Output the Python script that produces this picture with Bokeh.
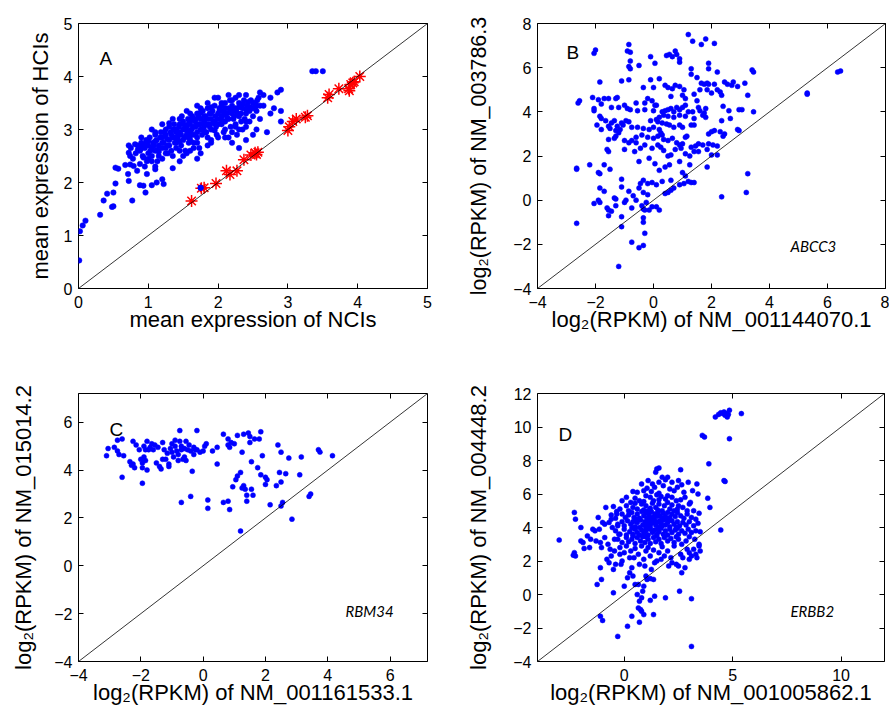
import math
from bokeh.plotting import figure
from bokeh.layouts import column, row
from bokeh.models import LinearAxis, Label, Slope, Range1d, FixedTicker
from bokeh.embed import file_html
from bokeh.resources import INLINE

# ---------------- data ----------------
a_points = [
    (0.01,0.53),(0.02,1.08),(0.06,1.19),(0.10,1.28),(0.31,1.39),(0.36,1.66),(0.41,1.79),(0.48,1.54),
    (0.50,1.55),(0.50,1.81),(0.53,1.98),(0.53,2.28),(0.57,2.26),(0.71,2.16),(0.72,2.03),(0.77,1.66),
    (0.88,1.95),(0.96,1.81),(0.93,1.94),(1.05,1.95),(1.12,2.00),(1.20,2.06),(1.22,1.97),(1.35,2.27),
    (1.10,2.25),(0.98,2.16),(0.67,2.33),(0.74,2.34),(0.79,2.31),(0.84,2.22),(0.72,2.56),(0.74,2.50),
    (0.81,2.72),(0.89,2.63),(0.93,2.47),
    (2.60,3.70),(2.65,3.65),(2.75,3.60),(2.85,3.70),(2.90,3.75),(2.65,3.45),(2.75,3.30),(2.80,3.40),
    (2.90,3.35),(2.90,3.15),(2.55,3.45),(2.60,3.20),(2.70,2.95),(2.50,2.90),(2.40,2.80),(2.40,3.15),
    (2.30,2.65),(2.20,2.75),(2.15,2.85),(2.00,2.85),(1.85,2.70),(1.75,2.55),(2.30,3.00),(2.55,3.00),
    (3.35,4.10),(3.40,4.10),(3.50,4.10),
    (1.45,2.60),(1.55,2.55),(1.65,2.65),(1.70,2.45),(1.20,2.45),(1.25,2.55),(1.05,2.40),(0.95,2.30),
    (1.60,2.80),(1.40,2.75),(1.90,2.80),
    (0.82,2.55),(0.85,2.70),(0.88,2.60),(0.90,2.75),(0.92,2.50),(0.95,2.65),(0.97,2.80),(1.00,2.70),
    (1.00,2.55),(0.98,2.40),
    (1.02,2.85),(1.05,2.65),(1.07,2.75),(1.10,2.60),(1.10,2.90),(1.12,2.80),(1.15,2.70),(1.15,2.50),
    (1.18,2.95),(1.20,2.85),(1.20,2.65),(1.22,2.75),(1.05,2.50),(1.13,2.40),
    (1.25,3.00),(1.25,2.90),(1.27,2.70),(1.30,2.80),(1.30,3.05),(1.32,2.95),(1.33,2.60),(1.35,2.85),
    (1.37,3.10),(1.38,2.75),(1.40,2.95),(1.40,3.00),(1.28,2.55),(1.35,2.50),
    (1.42,2.85),(1.45,3.10),(1.45,2.95),(1.47,2.70),(1.50,3.00),(1.50,3.15),(1.52,2.85),(1.55,3.05),
    (1.55,2.90),(1.57,3.20),(1.58,2.75),(1.60,3.10),(1.60,2.95),(1.48,3.25),(1.53,2.60),
    (1.62,3.00),(1.63,3.25),(1.65,2.90),(1.67,3.15),(1.68,3.05),(1.70,3.30),(1.70,2.85),(1.72,3.10),
    (1.75,3.00),(1.75,3.20),(1.77,2.90),(1.78,3.35),(1.80,3.15),(1.80,3.05),(1.65,2.75),(1.73,2.65),
    (1.82,3.25),(1.83,2.95),(1.85,3.40),(1.87,3.10),(1.88,3.30),(1.90,3.20),(1.90,3.00),(1.92,3.35),
    (1.95,3.15),(1.95,3.45),(1.97,3.05),(2.00,3.30),(2.00,3.20),(1.85,2.85),(1.98,2.90),
    (2.02,3.40),(2.05,3.10),(2.05,3.25),(2.08,3.35),(2.10,3.50),(2.10,3.15),(2.12,3.30),(2.15,3.20),
    (2.15,3.40),(2.18,3.05),(2.20,3.30),(2.20,3.45),(2.08,2.95),(2.17,3.55),
    (2.22,3.20),(2.25,3.40),(2.25,3.10),(2.28,3.30),(2.30,3.50),(2.30,3.25),(2.33,3.15),(2.35,3.40),
    (2.37,3.55),(2.40,3.30),(2.38,3.20),(2.27,2.90),
    (2.42,3.45),(2.45,3.35),(2.47,3.55),(2.50,3.40),(2.50,3.25),(2.53,3.50),(2.55,3.35),(2.58,3.60),
    (2.60,3.45),(2.45,3.15),
    (0.75,2.65),(0.78,2.45),(0.72,2.70),(1.05,3.00),(1.20,3.10),(1.35,3.20),(1.55,3.35),(1.70,3.45),
    (1.85,3.50),(2.00,3.60),(2.25,3.60),(2.40,3.65),(1.75,3.40),(1.50,2.50),(1.60,2.60),(1.90,2.75),
    (2.10,2.85),(2.20,2.95),(2.35,3.00),(1.10,2.30),(0.88,2.35),(1.45,2.40),(2.05,3.50),(1.95,3.60),
    (2.30,3.65),(2.15,3.65),
    (0.85,2.62),(0.90,2.68),(0.95,2.72),(1.00,2.78),(1.03,2.60),(1.08,2.70),(1.10,2.78),(1.13,2.62),
    (1.17,2.85),(1.20,2.75),(1.23,2.95),(1.27,2.82),(1.30,2.70),(1.33,2.90),(1.36,3.00),(1.38,2.85),
    (1.42,2.95),(1.44,3.05),(1.47,2.90),(1.50,2.80),(1.52,3.08),(1.55,2.98),(1.58,3.12),(1.60,2.88),
    (1.62,3.18),(1.65,3.05),(1.68,3.20),(1.70,2.95),(1.72,3.25),(1.75,3.10),(1.78,3.00),(1.80,3.25),
    (1.82,3.10),(1.85,3.20),(1.88,3.05),(1.90,3.30),(1.93,3.12),(1.96,3.25),(2.00,3.10),(2.02,3.35),
    (2.05,3.18),(2.08,3.28),(2.10,3.40),(2.13,3.22),(2.16,3.32),(2.20,3.38),(2.23,3.25),(2.26,3.35),
    (2.30,3.42),(2.33,3.30),(2.36,3.48),(2.40,3.38),(2.43,3.52),(2.46,3.42),(2.50,3.50),(2.53,3.42),
    (2.56,3.55),(1.15,2.58),(1.25,2.65),(1.40,2.65),(1.45,2.78),(1.58,2.85),(1.70,2.75),(1.82,2.95),
    (1.95,2.98),(2.10,3.00),(2.25,3.05),(2.40,3.05),(1.30,3.12),(1.45,3.20),(1.60,3.30),(1.75,3.32),
    (1.90,3.42),(2.05,3.45),(2.20,3.55),(0.90,2.85),(1.10,2.95),(1.00,2.45),
]
a_blue_on_star = [(1.75, 1.90)]
a_stars = [
    (1.62,1.65),(1.76,1.89),(1.80,1.90),(1.97,1.98),(2.12,2.22),(2.17,2.15),(2.27,2.22),(2.37,2.43),
    (2.47,2.52),(2.53,2.56),(2.57,2.57),(2.55,2.53),(3.00,2.98),(3.02,3.05),(3.07,3.15),(3.12,3.20),
    (3.25,3.23),(3.28,3.26),(3.57,3.60),(3.59,3.66),(3.73,3.77),(3.87,3.77),(3.88,3.73),(3.90,3.85),
    (3.93,3.88),(3.95,3.90),(4.03,4.00),
]

b_points = [
    (1.2,7.5),(1.35,7.2),(1.8,7.3),(1.65,7.05),(2.1,7.1),(-0.85,7.05),(-0.9,6.75),(-0.8,6.7),(-2.0,6.8),
    (-2.05,6.65),(0.55,6.6),(0.45,6.55),(0.75,6.75),(0.8,6.6),(0.9,6.4),(0.65,6.5),(-0.1,6.5),(0.05,6.2),
    (0.9,6.25),(-0.8,6.3),(-0.85,6.05),(-0.8,5.95),(-0.5,6.1),(1.9,6.2),(1.9,5.95),(1.3,5.95),(2.2,5.8),
    (3.4,5.9),(3.45,5.8),(6.35,5.8),(6.45,5.85),(1.3,5.7),(1.5,5.55),(-1.1,5.4),(-1.85,5.35),(-0.85,5.45),
    (-0.1,5.45),(0.2,5.5),(0.0,5.1),(-0.35,5.1),(0.4,5.2),(0.5,5.1),(0.65,5.05),(0.75,5.2),(0.9,5.15),
    (1.05,5.0),(1.65,5.3),(1.75,5.25),(1.85,5.3),(1.9,5.25),(1.85,5.0),(2.1,5.25),(2.2,5.0),(2.3,4.9),
    (2.45,5.35),(2.55,5.25),(2.7,5.2),(2.75,5.35),(2.9,5.15),(3.15,5.3),(1.6,5.0),(2.0,4.85),(2.35,4.75),
    (3.25,4.75),(5.3,4.8),(5.3,4.85),(1.0,4.75),(1.1,4.6),(1.5,4.5),(1.4,4.8),(0.6,4.7),(-0.2,4.6),
    (-0.05,4.5),(0.1,4.3),(-0.3,4.4),(-0.6,4.4),(-2.1,4.65),(-1.9,4.55),(-1.7,4.6),(-1.55,4.6),(-1.3,4.6),
    (-1.25,4.65),(-2.55,4.5),(-2.6,4.4),(-2.05,4.15),(-2.05,4.05),(-1.8,4.35),(-1.45,4.2),(-1.2,4.2),
    (-1.0,4.3),(-0.9,4.15),(-0.8,4.1),(-0.55,4.05),(-0.3,4.1),(0.0,4.05),(0.05,4.3),(0.3,4.0),(0.4,4.05),
    (0.5,4.1),(0.6,4.15),(0.7,4.0),(0.8,4.2),(0.9,4.1),(1.0,4.2),(1.1,4.3),(1.2,4.0),(1.35,4.0),(1.55,4.2),
    (1.6,4.05),(1.8,4.15),(2.4,4.25),(2.6,4.05),(2.95,4.1),(3.05,4.1),(3.45,4.0),(1.75,3.95),(1.7,3.85),
    (1.8,3.75),(1.4,3.7),(1.1,3.8),(0.9,3.85),(0.7,3.75),(0.5,3.8),(0.35,3.85),(0.2,3.75),(0.1,3.65),
    (-0.1,3.6),(0.15,3.55),(0.3,3.5),(0.45,3.45),(0.55,3.4),(0.7,3.3),(0.9,3.4),(1.0,3.3),(1.3,3.4),
    (1.4,3.4),(2.65,3.7),(2.35,3.6),(-1.85,3.8),(-1.8,3.7),(-1.65,3.6),(-1.45,3.5),(-1.35,3.6),(-1.1,3.5),
    (-0.95,3.6),(-0.85,3.55),(-1.05,3.4),(-1.25,3.35),(-1.55,3.35),(-1.95,3.4),(-1.8,3.2),(-1.5,3.25),
    (-1.3,3.15),(-1.15,3.2),(-0.75,3.3),(-0.55,3.3),(-0.35,3.25),(-0.15,3.2),(0.0,3.3),(0.2,3.2),
    (0.25,3.05),(0.3,2.95),(0.15,2.9),(0.0,2.8),(-0.2,2.85),(-0.4,2.95),(-0.6,2.85),(-0.75,2.7),(-1.0,2.7),
    (-1.3,2.9),(-1.35,2.8),(-1.55,2.75),(-1.2,3.05),(0.35,2.75),(0.5,2.7),(0.65,2.8),(0.8,2.6),(1.0,2.55),
    (1.1,2.85),(1.15,2.9),(1.3,2.4),(1.45,2.45),(1.55,2.55),(1.7,2.5),(1.9,2.55),(2.05,2.5),(2.2,2.45),
    (1.9,3.0),(2.0,3.1),(2.1,3.15),(2.3,3.1),(2.4,2.9),(2.45,3.0),(2.9,3.2),(2.95,3.15),(1.55,2.2),
    (1.85,2.3),(2.0,2.05),(2.2,2.05),(-1.0,2.3),(-0.85,2.6),(-0.6,2.6),(-0.45,2.35),(-0.3,2.5),(-0.05,2.35),
    (0.15,2.5),(0.25,2.4),(0.35,2.25),(0.5,2.0),(0.6,2.05),(0.75,2.3),(0.9,2.5),(0.95,2.35),(1.1,2.1),
    (1.25,2.0),(1.4,2.2),(-1.6,2.3),(-1.55,2.2),(-0.65,2.2),(-0.5,1.75),(-0.15,1.9),(0.05,1.65),(0.2,1.35),
    (0.4,1.5),(0.55,1.6),(0.9,1.75),(1.0,1.25),(1.1,1.1),(1.25,1.6),(1.85,1.5),(-1.7,1.6),(-2.2,1.6),
    (-2.65,1.45),(-2.65,1.4),(-1.9,1.25),(-1.85,1.2),(-1.5,1.4),(-1.1,0.95),(-0.35,0.9),(-0.45,0.75),
    (-0.2,0.75),(-0.05,0.8),(0.1,0.7),(0.3,0.85),(0.6,0.9),(0.7,0.55),(0.9,0.7),(1.05,0.75),(1.2,0.85),
    (1.3,0.8),(1.4,0.8),(-1.85,0.55),(-1.7,0.4),(-1.1,0.6),(-0.85,0.4),(-0.5,0.55),(-0.35,0.35),
    (-0.2,0.25),(0.4,0.3),(0.5,0.35),(0.6,0.45),(3.2,0.35),(3.25,1.2),(-1.35,0.1),(-1.3,0.05),(-0.95,0.0),
    (-0.7,0.2),(-0.6,0.0),(-0.4,-0.25),(-0.25,-0.1),(-0.05,-0.3),(0.1,-0.3),(-2.05,-0.15),(-1.9,0.0),
    (-1.85,-0.1),(-1.6,-0.35),(-1.55,-0.45),(-1.45,-0.5),(-1.3,-0.25),(-1.0,-0.1),(-0.75,-0.35),
    (-0.35,-0.4),(-0.3,-0.45),(-0.15,-0.45),(0.2,-0.45),(2.35,0.15),(-2.65,-1.05),(-1.1,-0.75),
    (-1.1,-1.2),(-0.35,-0.8),(-0.35,-1.0),(-0.3,-1.5),(-0.75,-1.9),(-0.5,-2.15),(-0.35,-2.05),(-1.2,-3.0),
    (-1.55,-0.7),
]

c_points = [
    (-3.1,4.6),(-3.05,4.9),(-2.85,4.95),(-2.75,5.25),(-2.6,5.3),(-2.75,4.8),(-2.7,4.65),(-2.55,4.6),
    (-2.6,3.7),(-2.35,4.35),(-2.25,4.25),(-2.2,4.1),(-2.25,5.2),(-2.15,5.05),(-2.05,4.85),(-2.0,4.45),
    (-1.95,4.3),(-1.95,4.1),(-1.9,4.55),(-1.85,4.4),(-1.8,4.0),(-1.95,3.45),(-1.9,5.0),(-1.85,4.85),
    (-1.8,5.2),(-1.7,4.95),(-1.65,5.1),(-1.6,4.85),(-1.55,5.05),(-1.5,4.3),(-1.45,4.95),(-1.4,4.15),
    (-1.35,4.05),(-1.3,5.15),(-1.25,4.85),(-1.2,4.45),(-1.15,4.7),(-1.1,4.25),(-1.1,4.15),(-1.05,4.9),
    (-1.0,4.75),(-0.95,4.55),(-0.9,5.25),(-0.9,5.0),(-0.85,4.8),(-0.8,4.4),(-0.8,4.65),(-0.75,5.2),
    (-0.7,5.0),(-0.75,5.65),(-0.7,4.85),(-0.65,4.45),(-0.6,4.9),(-0.55,4.4),(-0.55,5.2),(-0.5,4.85),
    (-0.45,5.05),(-0.4,4.8),(-0.3,4.65),(-0.25,4.85),(-0.2,4.85),(-0.2,5.65),(-0.1,4.75),(0.0,4.8),
    (0.05,5.0),(0.1,5.1),(0.3,4.8),(0.45,4.95),(-0.6,4.55),(-0.35,3.95),(-0.4,2.9),(-0.7,2.65),(0.45,4.25),
    (0.15,2.75),(0.15,2.4),(0.65,5.5),(0.65,2.65),(0.8,5.3),(0.8,5.05),(0.85,4.95),(0.8,2.7),(0.85,2.35),
    (0.9,5.15),(0.95,3.3),(1.0,5.1),(1.05,3.6),(1.1,3.75),(1.1,5.45),(1.2,3.9),(1.25,4.75),(1.3,5.5),
    (1.25,3.25),(1.3,3.35),(1.35,3.2),(1.4,2.95),(1.4,2.7),(1.45,5.55),(1.5,5.4),(1.5,5.15),(1.55,4.35),
    (1.6,2.95),(1.55,3.2),(1.65,5.3),(1.75,4.1),(1.8,5.3),(1.85,5.6),(1.85,3.8),(1.9,4.6),(2.0,3.7),
    (2.05,3.6),(2.0,3.4),(2.15,2.55),(2.35,3.35),(2.4,5.05),(2.45,3.9),(2.5,4.75),(2.5,3.5),(2.5,2.5),
    (2.55,2.65),(2.65,3.85),(2.75,4.5),(2.85,1.95),(3.1,3.8),(3.15,4.55),(3.4,2.9),(3.45,3.0),(3.7,4.85),
    (3.75,4.75),(4.15,4.6),(1.2,1.45),(-2.3,4.2),(-1.75,4.85),(-1.0,5.1),(-0.3,4.95),(-1.3,4.45),
]

d_points = [
    (4.2,10.6),(4.35,10.75),(4.45,10.85),(4.55,10.8),(4.6,10.9),(4.65,10.7),(4.75,10.6),(4.8,10.75),
    (4.85,11.0),(4.7,10.8),(5.4,10.8),(4.85,9.3),(3.6,9.5),(3.7,9.4),(3.9,7.8),(4.6,6.8),(4.65,6.75),
    (3.85,5.75),(3.95,5.2),(4.45,3.85),(3.45,3.0),(3.45,2.9),
    (-3.0,3.25),(-2.35,2.35),(-2.3,2.5),(-2.25,2.3),(-2.3,4.9),(-2.25,4.5),(-2.0,4.0),(-2.0,3.2),(-1.9,3.1),
    (-1.85,2.75),(-1.6,2.8),(-1.7,3.5),(-1.55,3.3),(-1.45,3.9),(-1.35,3.8),(-1.3,3.2),(-1.2,4.6),(-1.15,3.9),
    (-1.1,3.1),(-1.05,2.8),(-1.0,4.3),(-0.9,4.2),(-0.85,5.2),(-0.9,3.4),(-0.75,3.0),(-0.65,2.7),(-0.8,2.1),
    (-0.7,1.9),(-0.6,2.3),(-0.5,1.5),(-1.05,0.9),(-1.25,0.6),(-1.1,1.6),(-0.45,2.6),(-0.4,1.8),(-0.6,4.5),
    (-0.55,4.0),(-0.45,3.3),(-0.35,4.8),(-0.3,4.1),(-0.25,3.6),(-0.2,2.4),(-0.15,1.8),(-0.1,2.0),
    (-1.1,-1.3),(-1.0,-1.55),(-0.5,0.1),(-0.3,-2.5),(0.15,-1.9),(0.35,-1.3),(0.7,-1.65),(0.75,-0.9),
    (0.8,-1.0),(0.9,-1.2),(0.65,-0.8),(0.7,-0.4),(0.8,-0.2),(0.6,0.0),(0.85,0.2),(0.9,0.5),(0.65,0.6),
    (1.05,0.9),(1.2,0.95),(1.35,0.9),(1.4,-0.1),(1.2,-0.35),(1.35,-1.2),(1.25,1.5),(1.9,-0.2),(2.55,0.2),
    (3.1,-0.25),(3.1,-3.1),(0.0,0.5),(0.15,1.0),(0.25,1.3),(0.4,1.1),(0.5,0.6),(1.0,1.1),
    (2.6,2.4),(2.7,2.2),(2.9,2.7),(3.0,2.5),(3.1,2.3),(3.2,2.7),(3.3,2.4),(3.0,2.1),(2.4,1.8),(2.2,1.9),
    (2.5,1.7),(2.65,1.3),(2.8,1.6),(2.05,1.7),(3.35,2.2),(3.5,2.6),
    (1.5,7.5),(1.6,7.55),(1.45,7.3),(1.75,7.0),(2.0,7.0),(2.6,7.45),(1.1,6.8),(1.3,6.6),(1.9,6.85),
    (2.2,6.7),(2.5,6.8),(2.65,6.55),(2.95,6.7),(3.35,6.6),(1.6,6.7),(0.8,6.6),
    (0.6,6.1),(0.9,6.2),(1.05,6.35),(1.4,6.4),(1.8,6.5),(2.1,6.3),(2.3,6.2),(2.75,6.1),(3.4,6.0),
    (1.25,6.15),(1.6,6.05),(2.45,6.4),(0.4,6.15),(3.15,6.2),
    (0.3,5.5),(0.5,5.75),(0.7,5.6),(1.0,5.9),(1.2,5.8),(1.5,5.95),(1.7,5.85),(1.9,5.7),(2.2,5.8),(2.4,5.6),
    (2.8,5.8),(3.05,5.5),(0.9,5.55),(1.35,5.6),(1.6,5.65),(2.0,5.9),(2.6,5.65),(-0.1,5.6),(0.1,5.8),
    (0.1,5.3),(-0.2,5.1),(0.2,5.0),(0.4,5.2),(0.6,5.1),(0.8,5.4),(1.0,5.3),(1.1,5.0),(1.3,5.45),
    (1.45,5.2),(1.6,5.4),(1.75,5.0),(1.85,5.3),(2.0,5.5),(2.1,5.1),(2.3,5.0),(2.5,5.3),(2.7,5.2),(2.9,5.0),
    (3.2,5.0),(0.5,5.45),(0.9,5.05),(1.2,5.15),(1.55,5.05),(2.2,5.35),(2.45,5.1),(-0.5,5.25),(3.0,5.4),
    (-0.35,4.95),
    (-0.1,4.8),(0.05,4.6),(0.2,4.75),(0.35,4.9),(0.45,4.6),(0.6,4.8),(0.7,4.55),(0.8,4.95),(0.9,4.7),
    (1.0,4.85),(1.05,4.55),(1.15,4.75),(1.25,4.95),(1.3,4.6),(1.4,4.8),(1.5,4.65),(1.55,4.9),(1.65,4.7),
    (1.75,4.55),(1.8,4.85),(1.9,4.65),(2.0,4.9),(2.1,4.6),(2.2,4.8),(2.35,4.65),(2.45,4.9),(2.6,4.7),
    (2.75,4.55),(2.9,4.8),(3.1,4.6),(3.3,4.5),(3.45,4.85),(-0.4,4.55),(-0.6,4.75),(0.55,4.5),(1.2,4.5),
    (1.95,4.5),
    (-0.3,4.2),(-0.1,4.35),(0.0,4.1),(0.15,4.4),(0.3,4.2),(0.4,4.35),(0.5,4.05),(0.6,4.3),(0.75,4.45),
    (0.85,4.15),(0.95,4.35),(1.05,4.2),(1.15,4.4),(1.2,4.05),(1.3,4.3),(1.35,4.45),(1.45,4.15),(1.55,4.35),
    (1.6,4.05),(1.7,4.25),(1.8,4.45),(1.9,4.15),(2.0,4.3),(2.1,4.05),(2.2,4.4),(2.3,4.2),(2.45,4.35),
    (2.55,4.1),(2.7,4.3),(2.85,4.15),(3.0,4.35),(3.2,4.1),(3.4,4.25),(-0.7,4.3),(1.0,4.0),(1.4,4.4),
    (1.75,4.1),(2.4,4.0),(0.7,4.0),(1.25,4.25),(1.65,4.4),(2.05,4.45),
    (-0.4,3.8),(-0.2,3.6),(0.0,3.9),(0.1,3.55),(0.25,3.75),(0.4,3.6),(0.5,3.9),(0.6,3.7),(0.7,3.55),
    (0.8,3.85),(0.9,3.65),(1.0,3.8),(1.1,3.55),(1.2,3.9),(1.3,3.7),(1.4,3.85),(1.5,3.6),(1.6,3.75),
    (1.7,3.95),(1.8,3.6),(1.9,3.8),(2.0,3.55),(2.1,3.9),(2.2,3.7),(2.35,3.85),(2.5,3.6),(2.65,3.8),
    (2.8,3.65),(2.95,3.9),(3.1,3.7),(3.3,3.8),(3.5,3.75),(1.05,3.95),(1.55,3.95),(2.45,3.95),(0.35,3.95),
    (-0.3,3.3),(-0.1,3.1),(0.1,3.4),(0.2,3.15),(0.35,3.3),(0.5,3.05),(0.6,3.4),(0.75,3.2),(0.85,3.45),
    (0.95,3.1),(1.1,3.3),(1.2,3.05),(1.35,3.4),(1.45,3.15),(1.6,3.3),(1.7,3.05),(1.85,3.4),(2.0,3.2),
    (2.15,3.35),(2.3,3.1),(2.5,3.3),(2.65,3.0),(2.85,3.2),(3.0,3.45),(3.25,3.3),(0.4,3.5),(1.0,3.45),
    (1.5,3.5),(2.4,3.45),
    (-0.2,2.8),(0.0,2.5),(0.1,2.9),(0.3,2.6),(0.45,2.2),(0.5,2.75),(0.65,2.4),(0.8,2.9),(0.9,2.1),
    (1.0,2.6),(1.1,2.8),(1.2,2.3),(1.35,2.65),(1.5,2.0),(1.6,2.5),(1.75,2.85),(1.85,2.3),(2.0,2.6),
    (2.15,2.2),(2.3,2.9),(0.25,2.2),(0.7,1.8),(1.4,1.9),(0.35,1.6),(0.95,1.7),(1.7,2.1),
]

a_range = (0, 5)
b_range = (-4, 8)
c_range = (-4, 7.2)
d_range = (-4, 12)
a_ticks = [0, 1, 2, 3, 4, 5]
b_ticks = [-4, -2, 0, 2, 4, 6, 8]
c_ticks = [-4, -2, 0, 2, 4, 6]
d_xticks = [0, 5, 10]
d_yticks = [-4, -2, 0, 2, 4, 6, 8, 10, 12]

panel_letters = ["A", "B", "C", "D"]
gene_names = ["ABCC3", "RBM34", "ERBB2"]
a_xlabel = "mean expression of NCIs"
a_ylabel = "mean expression of HCIs"
b_xlabel = "log\u2082(RPKM) of NM_001144070.1"
b_ylabel = "log\u2082(RPKM) of NM_003786.3"
c_xlabel = "log\u2082(RPKM) of NM_001161533.1"
c_ylabel = "log\u2082(RPKM) of NM_015014.2"
d_xlabel = "log\u2082(RPKM) of NM_001005862.1"
d_ylabel = "log\u2082(RPKM) of NM_004448.2"

# ---------------- styling / layout ----------------
FONT = "Liberation Sans"
BLUE = "#0000ff"

# frame geometry in page pixels: (left, top, width, height), figure origin, figure size
GEOM = {
    "A": dict(fr=(78, 22, 349, 266), org=(0, 0), size=(445, 340)),
    "B": dict(fr=(537, 23, 348, 265), org=(445, 0), size=(444, 340)),
    "C": dict(fr=(78, 393, 349, 268), org=(0, 340), size=(445, 369)),
    "D": dict(fr=(537, 393, 347, 268), org=(445, 340), size=(444, 369)),
}


def tick_text(v):
    return ("\u2212" + str(abs(v))) if v < 0 else str(v)


def make_fig(key, xr, yr, xticks, yticks, xlabel, ylabel, xl_standoff, yl_standoff, yl_size="22px"):
    g = GEOM[key]
    fl, ft, fw, fh = g["fr"]
    ox, oy = g["org"]
    W, H = g["size"]
    p = figure(width=W, height=H, output_backend="svg", toolbar_location=None,
               x_range=Range1d(*xr), y_range=Range1d(*yr),
               min_border_left=fl - ox, min_border_top=ft - oy,
               min_border_right=W - (fl - ox) - fw, min_border_bottom=H - (ft - oy) - fh)
    p.xgrid.grid_line_color = None
    p.ygrid.grid_line_color = None
    p.outline_line_color = "black"
    p.outline_line_width = 1
    p.background_fill_color = "white"
    p.border_fill_color = "white"
    p.add_layout(LinearAxis(), "above")
    p.add_layout(LinearAxis(), "right")
    for ax in p.xaxis:
        ax.ticker = FixedTicker(ticks=xticks)
        ax.major_label_overrides = {t: tick_text(t) for t in xticks}
    for ax in p.yaxis:
        ax.ticker = FixedTicker(ticks=yticks)
        ax.major_label_overrides = {t: tick_text(t) for t in yticks}
    for ax in list(p.xaxis) + list(p.yaxis):
        ax.axis_line_color = None
        ax.major_tick_in = 5
        ax.major_tick_out = 0
        ax.major_tick_line_color = "black"
        ax.major_tick_line_width = 1
        ax.minor_tick_line_color = None
        ax.major_label_text_font = FONT
        ax.major_label_text_font_size = "16px"
        ax.major_label_text_color = "black"
        ax.axis_label_text_font = FONT
        ax.axis_label_text_font_size = "22px"
        ax.axis_label_text_font_style = "normal"
        ax.axis_label_text_color = "black"
    bx, ly = p.below[0], p.left[0]
    bx.major_label_standoff = 7
    ly.major_label_standoff = 6
    bx.axis_label = xlabel
    ly.axis_label = ylabel
    ly.axis_label_text_font_size = yl_size
    bx.axis_label_standoff = xl_standoff
    ly.axis_label_standoff = yl_standoff
    for ax in (p.above[0], p.right[0]):
        ax.major_label_text_font_size = "1px"
        ax.major_label_text_color = None
        ax.major_label_standoff = 0
    p.add_layout(Slope(gradient=1, y_intercept=0, line_color="black", line_width=0.8))
    p._geom = (g["fr"], xr, yr)
    return p


def to_data(p, px, py):
    (fl, ft, fw, fh), xr, yr = p._geom
    x = xr[0] + (px - fl) / fw * (xr[1] - xr[0])
    y = yr[1] - (py - ft) / fh * (yr[1] - yr[0])
    return x, y


def put(p, text, px, py, size, italic=False, font=FONT):
    x, y = to_data(p, px, py)
    p.add_layout(Label(x=x, y=y, text=text, text_font=font, text_font_size=f"{size}px",
                       text_align="left", text_baseline="alphabetic",
                       text_font_style="italic" if italic else "normal", text_color="black"))


def xs(pts):
    return [q[0] for q in pts]


def ys(pts):
    return [q[1] for q in pts]


# ---- panel A ----
pa = make_fig("A", a_range, a_range, a_ticks, a_ticks, a_xlabel, a_ylabel, -4, 8)
pa.scatter(xs(a_points), ys(a_points), size=5.5, fill_color=BLUE, line_color=BLUE, line_width=0.5)
pa.scatter(xs(a_stars), ys(a_stars), marker="asterisk", size=12, line_color="#ff0000", line_width=1.5)
pa.scatter(xs(a_blue_on_star), ys(a_blue_on_star), size=5.5, fill_color=BLUE, line_color=BLUE)
put(pa, panel_letters[0], 99, 57, 19)

# ---- panel B ----
pb = make_fig("B", b_range, b_range, b_ticks, b_ticks, b_xlabel, b_ylabel, -4, 19, "21.5px")
pb.scatter(xs(b_points), ys(b_points), size=5, fill_color=BLUE, line_color=BLUE, line_width=0.5)
put(pb, panel_letters[1], 566, 52, 19)
put(pb, gene_names[0], 790, 245, 15, italic=True, font="Lato")

# ---- panel C ----
pc = make_fig("C", c_range, c_range, c_ticks, c_ticks, c_xlabel, c_ylabel, -4, 15)
pc.scatter(xs(c_points), ys(c_points), size=5, fill_color=BLUE, line_color=BLUE, line_width=0.5)
put(pc, panel_letters[2], 109, 429, 19)
put(pc, gene_names[1], 345, 610, 15, italic=True, font="Lato")

# ---- panel D ----
pd_ = make_fig("D", d_range, d_range, d_xticks, d_yticks, d_xlabel, d_ylabel, -4, 19)
pd_.scatter(xs(d_points), ys(d_points), size=5, fill_color=BLUE, line_color=BLUE, line_width=0.5)
put(pd_, panel_letters[3], 558, 434, 19)
put(pd_, gene_names[2], 790, 610, 15, italic=True, font="Lato")

layout = column(row(pa, pb), row(pc, pd_))
open("out.html", "w").write(file_html(layout, INLINE))
